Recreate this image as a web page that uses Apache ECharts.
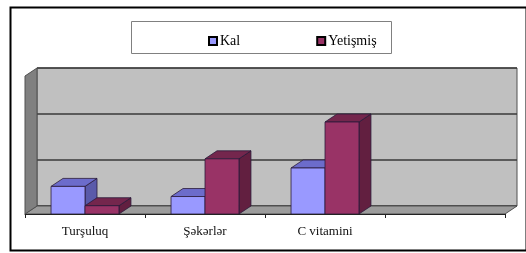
<!DOCTYPE html>
<html>
<head>
<meta charset="utf-8">
<script src="https://cdn.jsdelivr.net/npm/echarts@6/dist/echarts.min.js"></script>
<style>
  html, body { margin: 0; padding: 0; background: #fff; }
  #chart { width: 526px; height: 253px; }
</style>
</head>
<body>
<div id="chart"></div>
<script>
// kateqoriyalar və qiymətlər
const categories = ['Turşuluq', 'Şəkərlər', 'C vitamini', '']
const kalValues = [0.6, 0.38, 1.0, null]
const yetismisValues = [0.18, 1.2, 2.0, null]
const valueMax = 3
const valueStep = 1

// 3D görünüş üçün dərinlik sürüşməsi
const DX = 12
const DY = -8
const BAR_RATIO = 0.283
const FONT = "'Liberation Serif', 'DejaVu Serif', serif"

const myChart = echarts.init(document.getElementById('chart'))

// bir sütunu (ön, üst, yan üzlər) çək
function box(api, side, colors) {
  const cat = api.value(0)
  const val = api.value(1)
  if (val == null || isNaN(val)) return
  const band = api.size([1, 0])[0]
  const bw = band * BAR_RATIO
  const top = api.coord([cat, val])
  const base = api.coord([cat, 0])
  const x0 = side < 0 ? top[0] - bw : top[0]
  const x1 = x0 + bw
  const y0 = top[1]
  const y1 = base[1]
  const edge = { stroke: '#2a1a3a', lineWidth: 0.8 }
  return {
    type: 'group',
    children: [
      {
        type: 'polygon',
        shape: { points: [[x1, y0], [x1 + DX, y0 + DY], [x1 + DX, y1 + DY], [x1, y1]] },
        style: Object.assign({ fill: colors.side }, edge)
      },
      {
        type: 'polygon',
        shape: { points: [[x0, y0], [x1, y0], [x1 + DX, y0 + DY], [x0 + DX, y0 + DY]] },
        style: Object.assign({ fill: colors.top }, edge)
      },
      {
        type: 'rect',
        shape: { x: x0, y: y0, width: bw, height: y1 - y0 },
        style: Object.assign({ fill: colors.front }, edge)
      }
    ]
  }
}

const kalColors = { front: '#9999FF', top: '#6C6CCB', side: '#5A5AAA' }
const yetColors = { front: '#993366', top: '#74264D', side: '#621F40' }

const option = {
  animation: false,
  backgroundColor: '#fff',
  graphic: [
    {
      type: 'rect',
      left: 8, top: 5,
      shape: { width: 516, height: 243 },
      style: { fill: 'none', stroke: '#000', lineWidth: 2 },
      z: 100
    },
    {
      type: 'rect',
      left: 131, top: 21,
      shape: { width: 260, height: 32 },
      style: { fill: '#fff', stroke: '#808080', lineWidth: 1 },
      z: 0
    }
  ],
  legend: {
    data: ['Kal', 'Yetişmiş'],
    left: 203,
    top: 29,
    icon: 'rect',
    itemWidth: 8,
    itemHeight: 8,
    itemGap: 76,
    z: 10,
    textStyle: { fontFamily: FONT, fontSize: 14, color: '#000', padding: [0, 0, 0, -2] }
  },
  grid: [
    // ön müstəvi
    { left: 25, right: 21, top: 76, bottom: 39, show: false },
    // arxa divar
    {
      left: 37, right: 9, top: 68, bottom: 47, show: true,
      backgroundColor: '#C0C0C0', borderColor: '#505050', borderWidth: 1
    }
  ],
  xAxis: [
    {
      type: 'category',
      gridIndex: 0,
      data: categories,
      z: 5,
      axisLine: { lineStyle: { color: '#222', width: 1 } },
      axisTick: { show: true, length: 4, lineStyle: { color: '#222' } },
      axisLabel: { fontFamily: FONT, fontSize: 13, color: '#111', margin: 11, interval: 0 }
    },
    {
      type: 'category',
      gridIndex: 1,
      data: categories,
      show: false
    }
  ],
  yAxis: [
    { type: 'value', gridIndex: 0, min: 0, max: valueMax, interval: valueStep, show: false },
    {
      type: 'value', gridIndex: 1, min: 0, max: valueMax, interval: valueStep,
      axisLine: { show: false },
      axisTick: { show: false },
      axisLabel: { show: false },
      splitLine: { show: true, lineStyle: { color: '#3a3a3a', width: 1.5 } }
    }
  ],
  series: [
    {
      // döşəmə və sol divar
      name: 'walls',
      type: 'custom',
      xAxisIndex: 0,
      yAxisIndex: 0,
      z: 1,
      silent: true,
      data: [[0, 0]],
      renderItem: (params, api) => {
        const cs = params.coordSys
        const l = cs.x, r = cs.x + cs.width, t = cs.y, b = cs.y + cs.height
        const edge = { stroke: '#505050', lineWidth: 1 }
        return {
          type: 'group',
          children: [
            {
              type: 'polygon',
              shape: { points: [[l, b], [r, b], [r + DX, b + DY], [l + DX, b + DY]] },
              style: Object.assign({ fill: '#9C9C9C' }, edge)
            },
            {
              type: 'polygon',
              shape: { points: [[l, b], [l + DX, b + DY], [l + DX, t + DY], [l, t]] },
              style: Object.assign({ fill: '#808080' }, edge)
            }
          ]
        }
      }
    },
    {
      name: 'Kal',
      type: 'custom',
      xAxisIndex: 0,
      yAxisIndex: 0,
      z: 2,
      itemStyle: { color: '#9999FF', borderColor: '#000', borderWidth: 1 },
      data: kalValues.map((v, i) => [i, v]),
      renderItem: (params, api) => box(api, -1, kalColors)
    },
    {
      name: 'Yetişmiş',
      type: 'custom',
      xAxisIndex: 0,
      yAxisIndex: 0,
      z: 3,
      itemStyle: { color: '#993366', borderColor: '#000', borderWidth: 1 },
      data: yetismisValues.map((v, i) => [i, v]),
      renderItem: (params, api) => box(api, 1, yetColors)
    }
  ]
}

myChart.setOption(option)
</script>
</body>
</html>
